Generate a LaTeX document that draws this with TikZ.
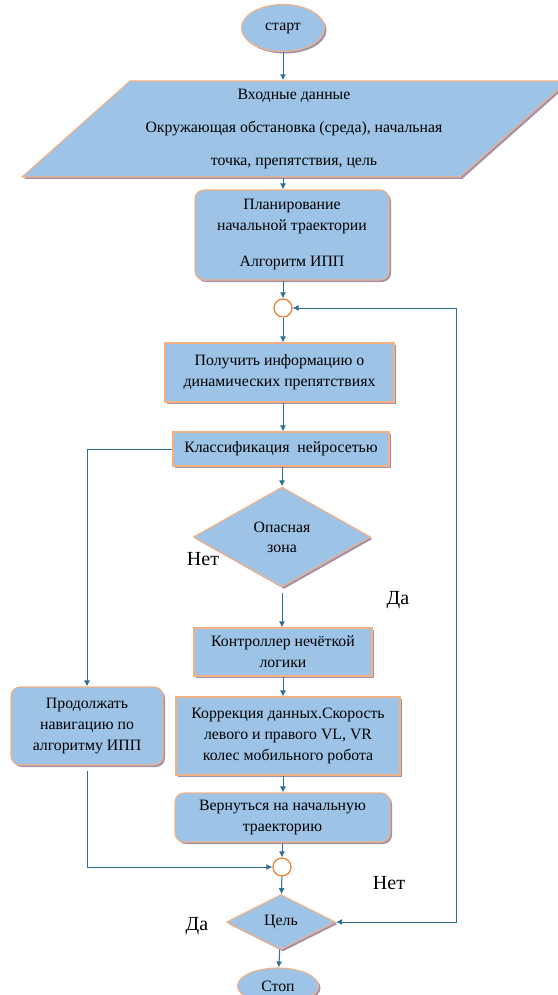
\documentclass[tikz,border=0pt]{standalone}
\usepackage{fontspec}
\setmainfont{Liberation Serif}
\usepackage{tikz}
\usetikzlibrary{calc,shapes,shadows,arrows.meta,positioning}
\definecolor{boxfill}{RGB}{157,195,230}
\definecolor{boxline}{RGB}{244,177,131}
\definecolor{jointline}{RGB}{237,125,49}
\definecolor{flowline}{RGB}{46,112,145}
\definecolor{shadowc}{RGB}{160,145,175}
\tikzstyle{boxlook}=[draw=boxline,fill=boxfill,line width=1.1pt,drop shadow={shadow xshift=2pt,shadow yshift=-2pt,fill=shadowc,opacity=1}]
\tikzstyle{procbox}=[boxlook,rectangle,inner sep=0pt,align=center,font=\fontsize{15.8}{21}\selectfont]
\tikzstyle{rbox}=[procbox,rounded corners=9pt]
\tikzstyle{decision}=[boxlook,diamond,inner sep=0pt,align=center,font=\fontsize{15.8}{20}\selectfont]
\tikzstyle{terminal}=[boxlook,ellipse,inner sep=0pt,font=\fontsize{15.8}{18}\selectfont]
\tikzstyle{joint}=[circle,draw=jointline,fill=white,line width=1.2pt,minimum size=18pt,inner sep=0pt]
\tikzstyle{flow}=[->,>={Latex[length=6pt,width=6pt]},draw=flowline,line width=1pt]
\tikzstyle{answer}=[font=\fontsize{20}{22}\selectfont]

\begin{document}
\begin{tikzpicture}[x=1pt,y=-1pt]
        \useasboundingbox (0,0) rectangle (557,995);
        \node (start) at (283,28) [terminal,minimum width=83pt,minimum height=47pt] {старт};
        \filldraw[boxlook] (22,177) -- (130,81) -- (568,81) -- (460,177) -- cycle;
        \node (inp) at (294,129) [align=center,minimum height=97pt,inner sep=0pt,font=\fontsize{15.8}{33}\selectfont]
          {Входные данные\\Окружающая обстановка (среда), начальная\\точка, препятствия, цель};
        \node (plan) at (292,235) [rbox,minimum width=194pt,minimum height=90pt]
          {Планирование\\начальной траектории\\[15pt]Алгоритм ИПП};
        \node (m1) at (283,308) [joint] {};
        \node (info) at (279.5,372.5) [procbox,minimum width=229pt,minimum height=59pt]
          {Получить информацию о\\динамических препятствиях};
        \node (cls) at (281,449) [procbox,minimum width=216pt,minimum height=34pt] {Классификация\ \ нейросетью};
        \node (danger) at (282,537) [decision,minimum width=177pt,minimum height=100pt] {Опасная\\зона};
        \node (no1) at (203,559) [answer] {Нет};
        \node (yes1) at (398,600) [answer] {Да};
        \node (fuzzy) at (283,652) [procbox,minimum width=178pt,minimum height=48pt] {Контроллер нечёткой\\логики};
        \node (corr) at (288,736) [procbox,minimum width=224pt,minimum height=78pt]
          {Коррекция данных.Скорость\\левого и правого VL, VR\\колес мобильного робота};
        \node (back) at (282.5,817.5) [rbox,minimum width=215pt,minimum height=49pt] {Вернуться на начальную\\траекторию};
        \node (cont) at (87,726) [rbox,minimum width=152pt,minimum height=78pt] {Продолжать\\навигацию по\\алгоритму ИПП};
        \node (m2) at (282,867) [joint] {};
        \node (goal) at (281,922) [decision,minimum width=109pt,minimum height=55pt] {Цель};
        \node (no2) at (389,883) [answer] {Нет};
        \node (yes2) at (197,926) [answer] {Да};
        \node (stop) at (278,986) [terminal,minimum width=81pt,minimum height=36pt] {Стоп};
        \coordinate (turn) at (456,922);
        \draw[flow] (start) -- (start |- inp.north);
        \draw[flow] (start |- inp.south) -- (start |- plan.north);
        \draw[flow] (m1 |- plan.south) -- (m1);
        \draw[flow] (m1) -- (m1 |- info.north);
        \draw[flow] (m1 |- info.south) -- (m1 |- cls.north);
        \draw[flow] (danger |- cls.south) -- (danger);
        \draw[flow,shorten <=5pt] (danger.south) -- (danger.south |- fuzzy.north);
        \draw[flow] (fuzzy.south) -- (fuzzy.south |- corr.north);
        \draw[flow] (fuzzy.south |- corr.south) -- (fuzzy.south |- back.north);
        \draw[flow] (m2 |- back.south) -- (m2);
        \draw[flow] (m2) -- (goal);
        \draw[flow] (goal) -- (stop);
        \draw[flow] (cls.west) -| (cont.north);
        \draw[flow,shorten <=5pt] (cont.south) |- (m2);
        \draw[flow,<->] (goal.east) -- (turn) |- (m1);
\end{tikzpicture}
\end{document}
